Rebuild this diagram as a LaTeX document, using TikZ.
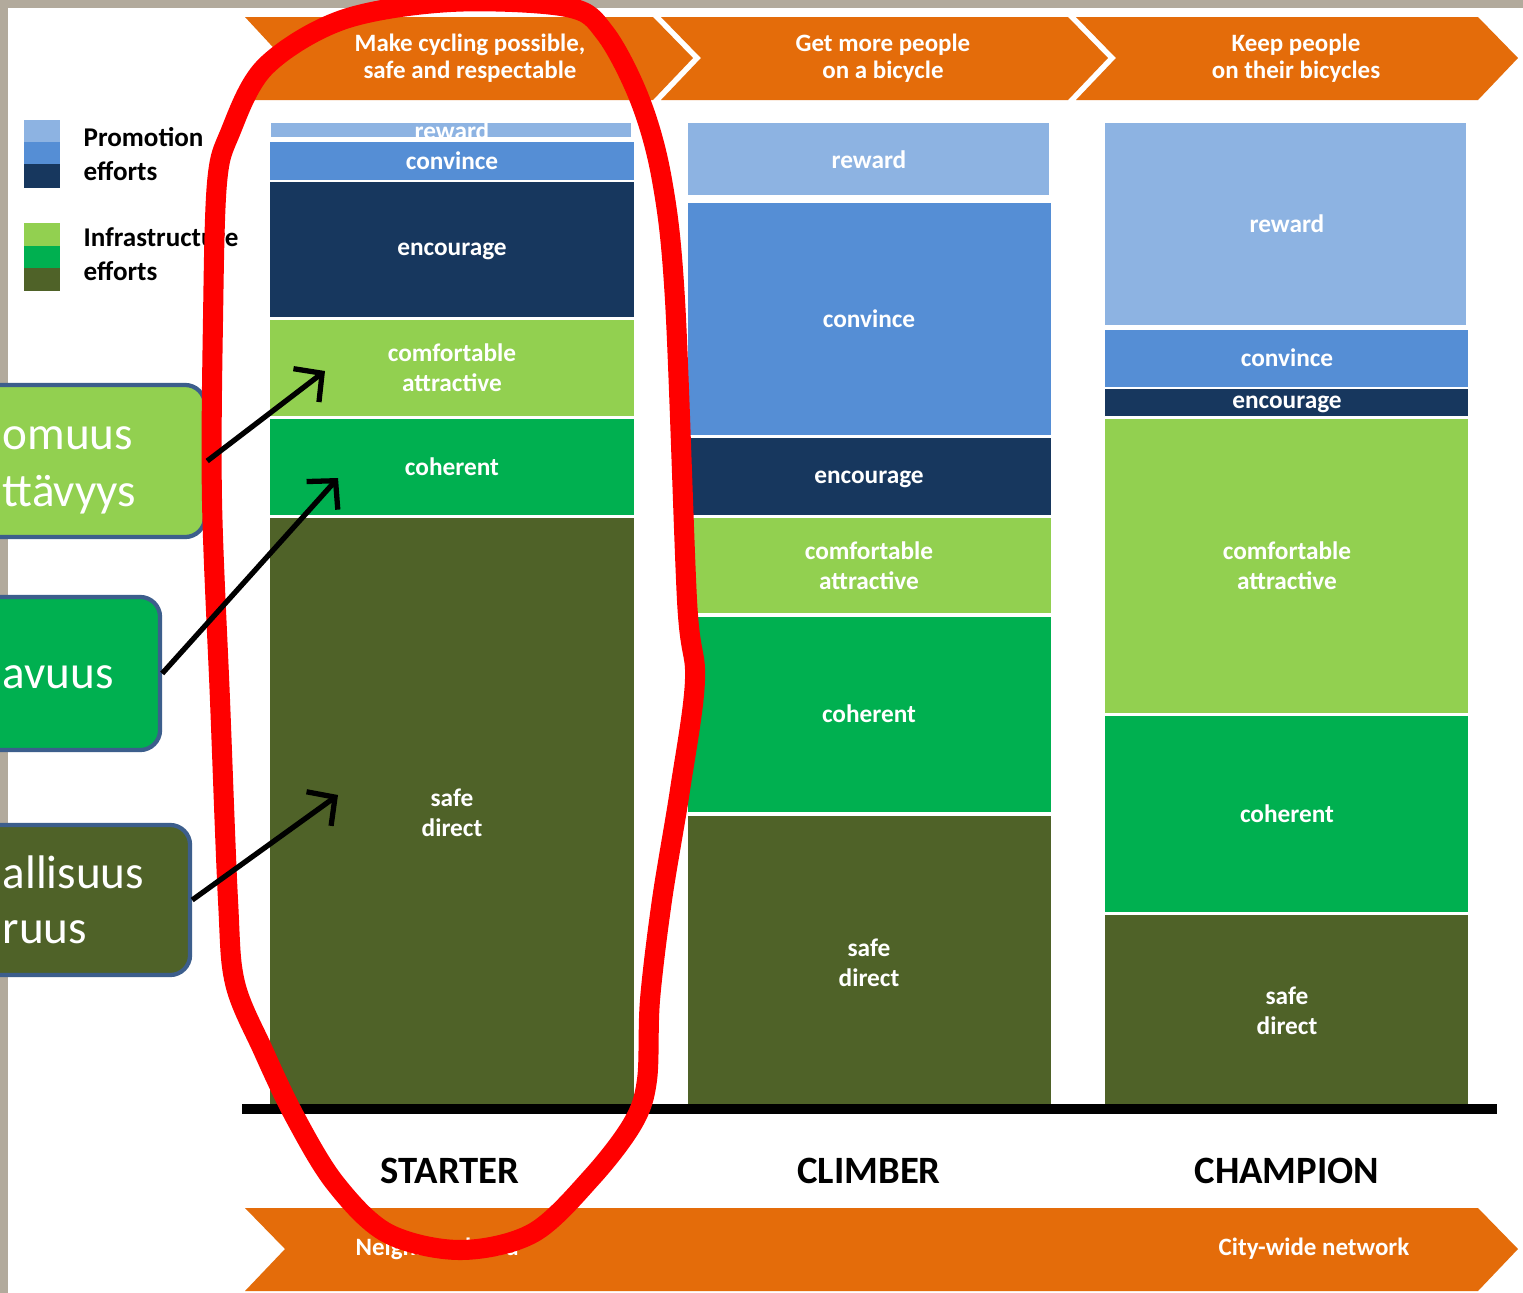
\documentclass[tikz,border=0pt]{standalone}
\usepackage{fontspec}
\setmainfont{Carlito}
\usepackage{xcolor}
\usetikzlibrary{arrows.meta}

\definecolor{rewardblue}{RGB}{141,179,226}
\definecolor{convinceblue}{RGB}{85,142,213}
\definecolor{encouragenavy}{RGB}{23,55,94}
\definecolor{comfgreen}{RGB}{146,208,80}
\definecolor{cohgreen}{RGB}{0,176,80}
\definecolor{safeolive}{RGB}{79,98,40}
\definecolor{bannerorange}{RGB}{228,108,10}
\definecolor{calloutedge}{RGB}{60,94,140}
\definecolor{framegray}{RGB}{178,170,156}
\definecolor{framebeige}{RGB}{236,230,214}
\definecolor{loopred}{RGB}{255,0,0}

\begin{document}
\begin{tikzpicture}[x=0.01cm, y=-0.01cm]
        \tikzstyle{barlabel}=[text=white, font=\bfseries\fontsize{7.2}{8.5}\selectfont, align=center, inner sep=0pt]
        \tikzstyle{bannertext}=[text=white, font=\bfseries\fontsize{7.1}{7.7}\selectfont, align=center, inner sep=0pt]
        \tikzstyle{stage}=[font=\bfseries\fontsize{11}{13}\selectfont, inner sep=0pt]
        \tikzstyle{legendtext}=[font=\bfseries\fontsize{7.7}{9.7}\selectfont, align=left, anchor=west, inner sep=0pt]
        \tikzstyle{callout}=[draw=calloutedge, line width=1.2pt, rounded corners=0.2cm, inner sep=0pt]
        \tikzstyle{callouttext}=[text=white, font=\fontsize{13.4}{16}\selectfont, inner sep=0pt, anchor=base west]
        \tikzstyle{pointer}=[line width=1.5pt, -{Straight Barb[length=2mm, width=4.2mm]}]

        \path[use as bounding box] (0,0) rectangle (1523,1293);
        \clip (0,0) rectangle (1523,1293);

        % frame and page
        \fill[framegray] (0,0) rectangle (1523,1293);
        \shade[left color=framegray, middle color=framebeige, right color=framegray] (0,0) rectangle (1523,8);
        \fill[white] (8,8) rectangle (1523,1293);

        % legend
        \fill[rewardblue] (24,120) rectangle (60,142);
        \fill[convinceblue] (24,142) rectangle (60,164);
        \fill[encouragenavy] (24,164) rectangle (60,188);
        \fill[comfgreen] (24,223) rectangle (60,246);
        \fill[cohgreen] (24,246) rectangle (60,268);
        \fill[safeolive] (24,268) rectangle (60,291);
        \node[legendtext] (promo) at (83,154) {Promotion\\efforts};
        \node[legendtext] (infra) at (83,254) {Infrastructure\\efforts};

        % top banners
        \fill[bannerorange] (245,17) -- (653,17) -- (693,58) -- (653,100) -- (245,100) -- (283,58) -- cycle;
        \fill[bannerorange] (661,17) -- (1068,17) -- (1108,58) -- (1068,100) -- (661,100) -- (701,58) -- cycle;
        \fill[bannerorange] (1076,17) -- (1478,17) -- (1518,58) -- (1478,100) -- (1076,100) -- (1116,58) -- cycle;
        \node[bannertext] (goal1) at (470,58) {Make cycling possible,\\safe and respectable};
        \node[bannertext] (goal2) at (883,58) {Get more people\\on a bicycle};
        \node[bannertext] (goal3) at (1296,58) {Keep people\\on their bicycles};

        % starter
        \fill[rewardblue] (271,123) rectangle (631,137);
        \fill[convinceblue] (270,142) rectangle (634,180);
        \fill[encouragenavy] (270,182) rectangle (634,317);
        \fill[comfgreen] (270,320) rectangle (634,416);
        \fill[cohgreen] (270,419) rectangle (634,515);
        \fill[safeolive] (270,518) rectangle (634,1104);
        \node[barlabel] (rew1) at (452,131) {reward};
        \node[barlabel] (con1) at (452,161) {convince};
        \node[barlabel] (enc1) at (452,251) {encourage};
        \node[barlabel] (com1) at (452,368) {comfortable\\attractive};
        \node[barlabel] (coh1) at (452,467) {coherent};
        \node[barlabel] (saf1) at (452,813) {safe\\direct};

        % climber
        \fill[rewardblue] (688,123) rectangle (1049,195);
        \fill[convinceblue] (688,203) rectangle (1051,435);
        \fill[encouragenavy] (688,438) rectangle (1051,515);
        \fill[comfgreen] (688,518) rectangle (1051,613);
        \fill[cohgreen] (688,617) rectangle (1051,812);
        \fill[safeolive] (688,816) rectangle (1051,1104);
        \node[barlabel] (rew2) at (869,160) {reward};
        \node[barlabel] (con2) at (869,319) {convince};
        \node[barlabel] (enc2) at (869,479) {encourage};
        \node[barlabel] (com2) at (869,566) {comfortable\\attractive};
        \node[barlabel] (coh2) at (869,714) {coherent};
        \node[barlabel] (saf2) at (869,963) {safe\\direct};

        % champion
        \fill[rewardblue] (1105,123) rectangle (1466,325);
        \fill[convinceblue] (1105,330) rectangle (1468,387);
        \fill[encouragenavy] (1105,389) rectangle (1468,416);
        \fill[comfgreen] (1105,419) rectangle (1468,713);
        \fill[cohgreen] (1105,716) rectangle (1468,912);
        \fill[safeolive] (1105,915) rectangle (1468,1104);
        \node[barlabel] (rew3) at (1287,224) {reward};
        \node[barlabel] (con3) at (1287,358) {convince};
        \node[barlabel] (enc3) at (1287,404) {encourage};
        \node[barlabel] (com3) at (1287,566) {comfortable\\attractive};
        \node[barlabel] (coh3) at (1287,814) {coherent};
        \node[barlabel] (saf3) at (1287,1011) {safe\\direct};

        % base line and stages
        \fill[black] (242,1104) rectangle (1497,1114);
        \node[stage] (starter) at (450,1171) {STARTER};
        \node[stage] (climber) at (869,1171) {CLIMBER};
        \node[stage] (champion) at (1287,1171) {CHAMPION};

        % bottom banner
        \fill[bannerorange] (245,1208) -- (1478,1208) -- (1518,1249) -- (1478,1291) -- (245,1291) -- (285,1249) -- cycle;
        \node[bannertext, anchor=west] (neigh) at (355,1249) {Neighbourhood};
        \node[bannertext] (citywide) at (1314,1249) {City-wide network};

        % callouts on the left
        \node[callout, fill=comfgreen, minimum width=3.05cm, minimum height=1.52cm] (mukavuus) at (52.5,461) {};
        \node[callout, fill=cohgreen, minimum width=2.6cm, minimum height=1.53cm] (kattavuus) at (30,673.5) {};
        \node[callout, fill=safeolive, minimum width=2.9cm, minimum height=1.5cm] (turvallisuus) at (45,900) {};
        \node[callouttext] (t1a) at (2,449) {omuus};
        \node[callouttext] (t1b) at (2,506) {ttävyys};
        \node[callouttext] (t2) at (2,688) {avuus};
        \node[callouttext] (t3a) at (2,888) {allisuus};
        \node[callouttext] (t3b) at (2,943) {ruus};

        % hand drawn loop round the starter
        \draw[loopred, line width=5.7pt, line join=round] plot[smooth cycle, tension=0.55] coordinates {
          (450,2) (567,7) (605,33) (640,100) (662,180) (675,300) (687,600) (695,680)
          (680,790) (662,900) (650,1000) (647,1080) (633,1123) (592,1177) (533,1233)
          (460,1250) (387,1233) (335,1183) (295,1117) (263,1050) (235,983) (228,900)
          (220,700) (212,500) (213,320) (217,183) (230,133) (265,67) (342,20)};

        \coordinate (kohde1) at (325,371);
        \coordinate (kohde2) at (338,478);
        \coordinate (kohde3) at (338,795);

        \draw[pointer] (mukavuus.east) -- (kohde1);
        \draw[pointer] (kattavuus.east) -- (kohde2);
        \draw[pointer] (turvallisuus.east) -- (kohde3);
      \end{tikzpicture}
\end{document}
